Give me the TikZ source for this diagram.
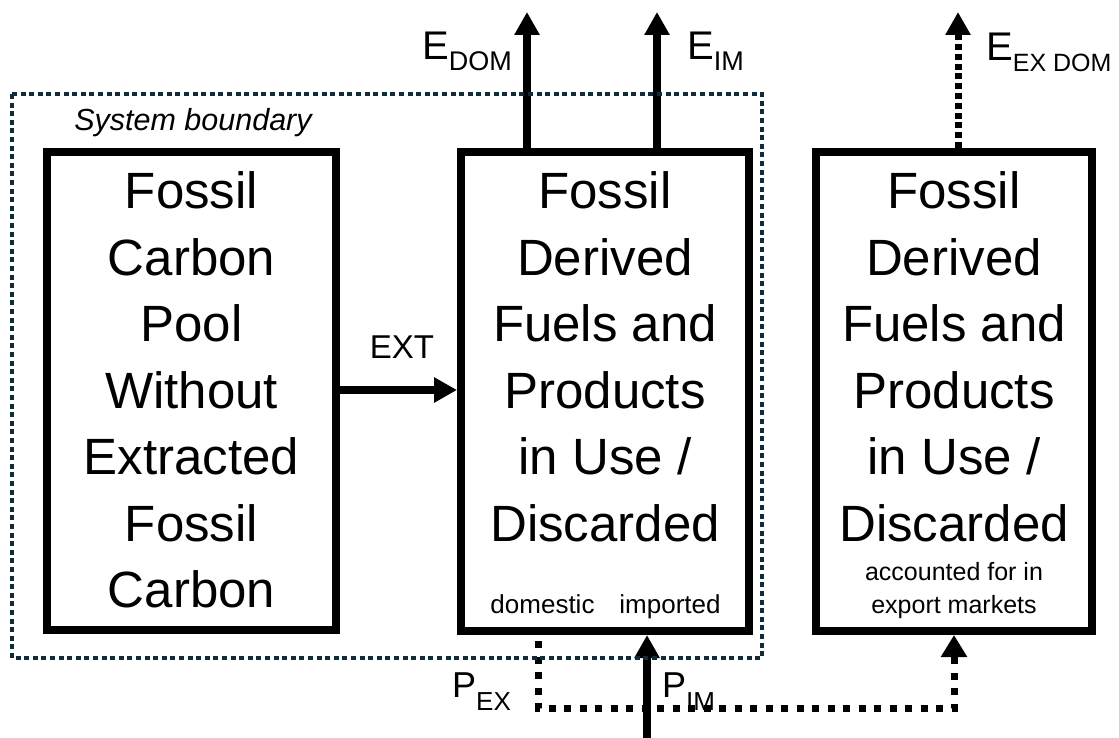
\documentclass[tikz,border=0pt]{standalone}
\usepackage{fontspec}
\setmainfont{Liberation Sans}
\usetikzlibrary{arrows.meta}
\definecolor{bnd}{RGB}{16,44,58}
\begin{document}
\begin{tikzpicture}[x=1pt,y=-1pt,
  box/.style={draw=black, line width=8pt, anchor=north west, inner sep=0pt},
  bigtext/.style={font=\fontsize{51}{66.5}\selectfont, align=center, inner sep=0pt, anchor=north},
  smalltext/.style={font=\fontsize{26}{30}\selectfont, inner sep=0pt, anchor=base},
  lbl/.style={inner sep=0pt, anchor=base west},
  arr/.style={line width=8pt, -{Triangle[length=23pt,width=24pt]}},
  dotarr/.style={line width=7pt, dash pattern=on 7pt off 8.5pt, -{Triangle[length=22pt,width=25pt]}},
  topdotarr/.style={line width=7pt, dash pattern=on 6pt off 3.8pt, -{Triangle[length=23pt,width=24pt]}},
  boundary/.style={draw=bnd, line width=4.5pt, dash pattern=on 5pt off 3.6pt}]
\useasboundingbox (0,0) rectangle (1119,738);
\fill[white] (0,0) rectangle (1119,738);

% short remnant dotted segment under the middle box
\coordinate (rem1) at (537,629);
\coordinate (rem2) at (593,629);
\draw[draw=bnd, line width=4pt, dash pattern=on 6pt off 3.5pt] (rem1) -- (rem2);

% boxes
\node[box, minimum width=289pt, minimum height=478pt] (left) at (43,148) {};
\node[box, minimum width=288pt, minimum height=479pt] (mid) at (457,148) {};
\node[box, minimum width=276pt, minimum height=479pt] (right) at (812,148) {};

% box texts
\node[bigtext] (leftT) at (191.5,171.5) {Fossil\\Carbon\\Pool\\Without\\Extracted\\Fossil\\Carbon};
\node[bigtext] (midT) at (605,171.5) {Fossil\\Derived\\Fuels and\\Products\\in Use /\\Discarded};
\node[bigtext] (rightT) at (954,171.5) {Fossil\\Derived\\Fuels and\\Products\\in Use /\\Discarded};

\node[smalltext] (dom) at (542.5,613) {domestic};
\node[smalltext] (imp) at (670,613) {imported};
\node[smalltext, font=\fontsize{25}{30}\selectfont] (acc1) at (954,580) {accounted for in};
\node[smalltext, font=\fontsize{25}{30}\selectfont] (acc2) at (954,613) {export markets};

% system boundary label
\node[inner sep=0pt, anchor=base, font=\itshape\fontsize{30.5}{34}\selectfont] (sysb) at (193,131) {System boundary};

% EXT arrow
\coordinate (ext) at (400,390);
\draw[arr] (left.east |- ext) -- (mid.west |- ext);
\node[inner sep=0pt, anchor=base, font=\fontsize{33}{36}\selectfont] (extl) at (402,358) {EXT};

% top emission arrows
\coordinate (edomtip) at (527,12);
\coordinate (eimtip) at (657,12);
\coordinate (eexdomtip) at (958,12);
\draw[arr] (edomtip |- mid.north) -- (edomtip);
\draw[arr] (eimtip |- mid.north) -- (eimtip);
\draw[topdotarr] (eexdomtip |- right.north) -- (eexdomtip);

\node[lbl, font=\fontsize{40}{44}\selectfont] (edoml) at (422,60) {E\raisebox{-11pt}{\fontsize{27}{30}\selectfont DOM}};
\node[lbl, font=\fontsize{40}{44}\selectfont] (eiml) at (687,60) {E\raisebox{-11pt}{\fontsize{27}{30}\selectfont IM}};
\node[lbl, font=\fontsize{40}{44}\selectfont] (eexdoml) at (986,61) {E\raisebox{-11pt}{\fontsize{25}{30}\selectfont EX DOM}};

% export dotted path
\coordinate (pex1) at (538,641);
\coordinate (pex2) at (538,708);
\coordinate (pex3) at (954,708);
\draw[dotarr] (pex1) -- (pex2) -- (pex3) -- (pex3 |- right.south);

% import arrow
\coordinate (pimstart) at (647,738);
\draw[arr] (pimstart) -- (pimstart |- mid.south);

\node[lbl, font=\fontsize{36}{40}\selectfont] (pexl) at (452,697) {P\raisebox{-13pt}{\fontsize{26}{30}\selectfont EX}};
\node[lbl, font=\fontsize{36}{40}\selectfont] (piml) at (662,697) {P\raisebox{-13pt}{\fontsize{26}{30}\selectfont IM}};

% system boundary
\draw[boundary] (12,94) rectangle (762,658);
\end{tikzpicture}
\end{document}
